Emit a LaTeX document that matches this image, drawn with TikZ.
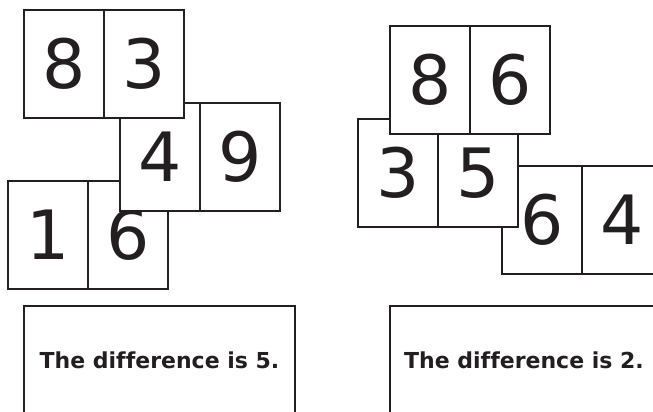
\documentclass[tikz,border=0pt]{standalone}
\usepackage{fontspec}
\setmainfont[Ligatures=NoCommon]{DejaVu Sans}
\definecolor{ink}{HTML}{231F20}
\begin{document}
\begin{tikzpicture}[x=1pt,y=-1pt,
  cell/.style={draw=ink,line width=2pt,fill=white,rectangle,inner sep=0pt,
    minimum width=80pt,minimum height=108pt,font=\fontsize{68}{68}\selectfont,text=ink},
  answerbox/.style={draw=ink,line width=2pt,rectangle,inner sep=0pt,
    minimum width=271pt,minimum height=134pt},
  answer/.style={font=\fontsize{22}{22}\selectfont\bfseries,text=ink,inner sep=0pt}]
\useasboundingbox (0,0) rectangle (653,412);
\clip (0,0) rectangle (653,412);
% left group
\node[cell] (a1) at (48,235) {1};
\node[cell] (a2) at (128,235) {6};
\node[cell] (b1) at (160,157) {4};
\node[cell] (b2) at (240,157) {9};
\node[cell] (c1) at (64,64) {8};
\node[cell] (c2) at (144,64) {3};
% right group
\node[cell] (d1) at (542,219.5) {6};
\node[cell] (d2) at (622,219.5) {4};
\node[cell] (e1) at (398,173) {3};
\node[cell] (e2) at (478,173) {5};
\node[cell] (f1) at (430,80) {8};
\node[cell] (f2) at (510,80) {6};
% answer boxes
\node[answerbox] (L) at (159.5,373) {};
\node[answerbox] (R) at (525,373) {};
\node[answer] (Lt) at (159.5,360) {The difference is 5.};
\node[answer] (Rt) at (524,360) {The difference is 2.};
\end{tikzpicture}
\end{document}
